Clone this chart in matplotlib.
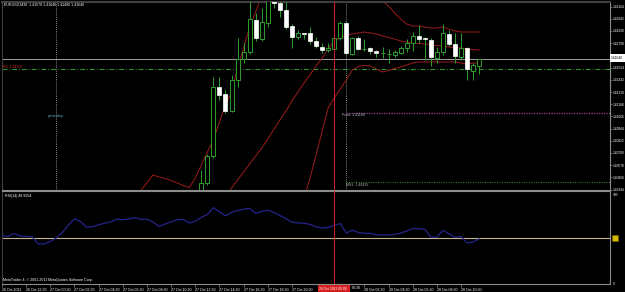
import numpy as np
import matplotlib.pyplot as plt
from matplotlib.patches import Rectangle

plt.rcParams['font.family'] = ['Liberation Sans', 'DejaVu Sans']

# ---- data (EURUSD M30, bar 0 = 26 Oct 20:30) ----
first_candle = 33
opens = [1.4033, 1.4040, 1.4067, 1.4136, 1.4129, 1.4112, 1.4143, 1.4164, 1.4171, 1.4203,
         1.4184, 1.4200, 1.4225, 1.4220, 1.4213, 1.4197, 1.4186, 1.4190, 1.4190, 1.4182,
         1.4176, 1.4173, 1.4174, 1.4185, 1.4200, 1.4169, 1.4185, 1.4174, 1.4175, 1.4172,
         1.4170, 1.4169, 1.4168, 1.4170, 1.4175, 1.4180, 1.4187, 1.4185, 1.4183, 1.4165,
         1.4171, 1.4189, 1.4179, 1.4166, 1.4175, 1.4152, 1.4157]
highs = [1.4053, 1.4069, 1.4146, 1.4146, 1.4133, 1.4148, 1.4185, 1.4180, 1.4225, 1.4210,
         1.4215, 1.4235, 1.4235, 1.4226, 1.4224, 1.4199, 1.4193, 1.4190, 1.4196, 1.4186,
         1.4180, 1.4180, 1.4188, 1.4202, 1.4202, 1.4186, 1.4187, 1.4184, 1.4176, 1.4173,
         1.4176, 1.4174, 1.4173, 1.4177, 1.4184, 1.4191, 1.4198, 1.4186, 1.4185, 1.4176,
         1.4199, 1.4193, 1.4190, 1.4190, 1.4176, 1.4160, 1.4164]
lows = [1.4027, 1.4038, 1.4065, 1.4123, 1.4110, 1.4111, 1.4136, 1.4160, 1.4169, 1.4182,
        1.4182, 1.4196, 1.4215, 1.4206, 1.4194, 1.4175, 1.4184, 1.4184, 1.4179, 1.4175,
        1.4170, 1.4171, 1.4173, 1.4183, 1.4168, 1.4168, 1.4173, 1.4172, 1.4169, 1.4166,
        1.4165, 1.4160, 1.4166, 1.4169, 1.4171, 1.4172, 1.4180, 1.4163, 1.4157, 1.4160,
        1.4168, 1.4177, 1.4160, 1.4163, 1.4143, 1.4143, 1.4149]
closes = [1.4040, 1.4067, 1.4136, 1.4128, 1.4112, 1.4143, 1.4164, 1.4171, 1.4204, 1.4185,
          1.4201, 1.4225, 1.4220, 1.4213, 1.4196, 1.4186, 1.4190, 1.4189, 1.4182, 1.4177,
          1.4173, 1.4175, 1.4185, 1.4200, 1.4170, 1.4185, 1.4174, 1.4174, 1.4172, 1.4170,
          1.4170, 1.4169, 1.4171, 1.4175, 1.4180, 1.4187, 1.4184, 1.4184, 1.4166, 1.4171,
          1.4190, 1.4179, 1.4167, 1.4175, 1.4154, 1.4158, 1.4164]

# bollinger bands (only the visible stretches)
upper_start = 22
bb_upper = [1.4025, 1.4033, 1.4040, 1.4048, 1.4046, 1.40445, 1.40425, 1.4040, 1.40375, 1.40355,
            1.4045, 1.4058, 1.4071, 1.4083, 1.4101, 1.4118, 1.4131, 1.4155, 1.4175, 1.4196,
            1.4211, 1.4228, 1.4238, 1.4245, 1.4250, 1.4253, 1.4254, 1.4253, 1.4252, 1.4250,
            1.4248, 1.4246, 1.4244, 1.4242, 1.4240, 1.4238, 1.4236, 1.4233, 1.4230, 1.4227,
            1.4224, 1.4222, 1.4217, 1.4210, 1.4204, 1.4199, 1.4197, 1.4197, 1.4196, 1.4195,
            1.4195, 1.4196, 1.4194, 1.4192, 1.4191, 1.4191, 1.4191, 1.4191]
mid_start = 37
bb_mid = [1.4025, 1.4035, 1.4043, 1.4051, 1.4059, 1.4067, 1.4075, 1.4084, 1.40935, 1.4103,
          1.4112, 1.4122, 1.4131, 1.4140, 1.4148, 1.4157, 1.4165, 1.4174, 1.4182, 1.4185,
          1.4188, 1.4189, 1.4190, 1.4191, 1.4190, 1.4189, 1.4187, 1.41855, 1.4184, 1.4182,
          1.4181, 1.4180, 1.41795, 1.4179, 1.4178, 1.41775, 1.4177, 1.4176, 1.41755, 1.4175,
          1.4174, 1.41735, 1.4173]
low_start = 50
bb_lower = [1.4025, 1.4045, 1.4068, 1.4092, 1.4115, 1.4125, 1.4134, 1.4143, 1.4153, 1.41565,
            1.41575, 1.4157, 1.4154, 1.4151, 1.41525, 1.41545, 1.4156, 1.4158, 1.4160, 1.4161,
            1.4161, 1.4161, 1.4161, 1.4161, 1.4161, 1.4161, 1.4160, 1.4159, 1.4160, 1.4160]

rsi = [52.7, 51.6, 54.9, 52.2, 51.6, 51.1, 43.5, 43.5, 46.2, 50.0,
       56.0, 64.1, 70.7, 67.9, 61.6, 62.3, 64.3, 66.0, 67.4, 70.3,
       69.8, 70.7, 72.0, 70.3, 70.3, 67.4, 62.5, 65.2, 67.6, 69.8,
       70.1, 66.3, 68.2, 72.3, 75.5, 82.9, 78.3, 74.1, 77.7, 79.9,
       81.2, 82.1, 76.8, 78.6, 80.2, 77.7, 74.5, 71.0, 67.1, 66.3,
       66.0, 64.7, 62.1, 60.8, 61.5, 63.6, 65.7, 55.4, 58.3, 55.9,
       55.1, 55.0, 53.3, 53.3, 53.3, 53.8, 55.2, 57.6, 60.3, 60.0,
       59.5, 50.8, 50.8, 58.3, 54.6, 50.8, 51.6, 44.6, 45.7, 49.0]

bid = 1.41640
r1_level = 1.41537
pivot = 1.41100
ms1 = 1.40415
separators = [9, 57]
marker_bar = 55

# label at 1.41676 sits under the bid price box, so it is not listed
price_ticks = [1.42164, 1.42042, 1.41920, 1.41798, 1.41554, 1.41432, 1.41310,
               1.41188, 1.41066, 1.40944, 1.40822, 1.40700, 1.40578, 1.40456, 1.40334]
time_ticks = [0, 4, 8, 12, 16, 20, 24, 28, 32, 36, 40, 44, 48, 56, 60, 64, 68, 72, 76]
# the 28 Oct 00:30 label is half hidden by the red time box, only "00:30" shows
time_labels = ['26 Oct 2011', '26 Oct 22:30', '27 Oct 00:30', '27 Oct 02:30', '27 Oct 04:30',
               '27 Oct 06:30', '27 Oct 08:30', '27 Oct 10:30', '27 Oct 12:30', '27 Oct 14:30',
               '27 Oct 16:30', '27 Oct 18:30', '27 Oct 20:30', '',
               '28 Oct 02:30', '28 Oct 04:30', '28 Oct 06:30', '28 Oct 08:30', '28 Oct 10:30']

# ---- layout (pixel boxes) ----
W, H = 625, 292
fig = plt.figure(figsize=(6.25, 2.92), dpi=100, facecolor='black')

def box(x0, y0, x1, y1):
    return [x0 / W, 1 - y1 / H, (x1 - x0) / W, (y1 - y0) / H]

ax = fig.add_axes(box(2, 2, 610, 190))
ax2 = fig.add_axes(box(2, 191, 610, 284))
FS = 2.6
green = '#2f9e2f'
bandc = '#9a1c1c'
grey = '#8c8c8c'

for a in (ax, ax2):
    a.set_facecolor('black')
    a.set_xlim(0, 608 / 6.04)
    for s in a.spines.values():
        s.set_color(grey)
        s.set_linewidth(0.8)
    a.spines['left'].set_color('#404040')
ax.spines['top'].set_color('#404040')
ax.spines['top'].set_linewidth(1.5)

ax.set_ylim(1.4033, 1.4221)
ax2.set_ylim(0, 101)

# candles
idx = np.arange(first_candle, first_candle + len(opens))
o = np.array(opens); c = np.array(closes)
ax.vlines(idx, lows, highs, color=green, lw=0.7, zorder=3)
bull = c >= o
hgt = np.maximum(np.abs(c - o), 0.00003)
bot = np.minimum(o, c)
ax.bar(idx[bull], hgt[bull], bottom=bot[bull], width=0.66, facecolor='black',
       edgecolor=green, lw=0.7, zorder=4)
ax.bar(idx[~bull], hgt[~bull], bottom=bot[~bull], width=0.66, facecolor='white',
       edgecolor='white', lw=0.5, zorder=4)

# bands
ax.plot(np.arange(upper_start, upper_start + len(bb_upper)), bb_upper, color=bandc, lw=0.7, zorder=2)
ax.plot(np.arange(mid_start, mid_start + len(bb_mid)), bb_mid, color=bandc, lw=0.7, zorder=2)
ax.plot(np.arange(low_start, low_start + len(bb_lower)), bb_lower, color=bandc, lw=0.7, zorder=2)

# horizontal levels
ax.axhline(bid, color='#a0a0a0', lw=0.7, zorder=1)
ax.axhline(r1_level, color=green, lw=0.7, ls=(0, (5, 2, 1, 2)), zorder=1)
ax.hlines(pivot, separators[1], 120, color='#9a3a9a', lw=0.9, ls=(0, (1, 1)), zorder=1)
ax.hlines(ms1, separators[1], 120, color=green, lw=0.7, ls=(0, (1, 1.5)), zorder=1)
for s in separators:
    ax.axvline(s, color='#b0b0b0', lw=0.6, ls=(0, (1, 1.5)), zorder=1)
ax.axvline(marker_bar, color='#c42222', lw=0.8, zorder=5)
ax2.axvline(marker_bar, color='#c42222', lw=0.8, zorder=5)

# price axis
ax.yaxis.tick_right()
ax.set_yticks(price_ticks)
ax.set_yticklabels(['%.5f' % t for t in price_ticks])
ax.tick_params(axis='y', colors=grey, labelcolor='white', labelsize=2.3, length=1.5, width=0.5, pad=0.4)
ax.set_xticks([])

# rsi
ax2.plot(range(len(rsi)), rsi, color='#24248c', lw=0.9, zorder=3)
ax2.axhline(50, color='#c4b48a', lw=0.8, zorder=2)
ax2.yaxis.tick_right()
ax2.set_yticks([97, 1])
ax2.set_yticklabels(['100', '0'])
ax2.tick_params(axis='y', colors=grey, labelcolor='white', labelsize=2.3, length=0, pad=2)
ax2.set_xticks(time_ticks)
ax2.set_xticklabels(time_labels)
ax2.tick_params(axis='x', colors=grey, labelcolor='white', labelsize=FS, length=2, width=0.5, pad=0.6)
for lab in ax2.get_xticklabels():
    lab.set_ha('left')

# texts
def ptext(x, y, s, color='white', size=FS, **kw):
    fig.text(x / W, 1 - y / H, s, color=color, fontsize=size, va='center', ha='left', **kw)

ptext(4, 5, 'EURUSD,M30  1.41570 1.41640 1.41490 1.41640')
ptext(3, 67, 'R1: 1.41537', color='#e03030')
ptext(48, 116, 'yesterday', color='#5fa8a8')
ptext(342, 115, 'Pivot: 1.41100', color='#b8b8c8')
ptext(346, 184.5, 'MS1: 1.40415', color='#b8b8b8')
ptext(5, 196, 'RSI(14) 48.9954')
ptext(3, 280, 'MetaTrader 4, \u00a9 2001-2011 MetaQuotes Software Corp.')
ptext(351.5, 288.3, '00:30')

# current price box, level marker and time marker box
fig.patches.append(Rectangle((610 / W, 1 - 62 / H), 15 / W, 8 / H, transform=fig.transFigure,
                             facecolor='white', edgecolor='none', zorder=6))
fig.text(611 / W, 1 - 58 / H, '1.41640', color='black', fontsize=2.3, va='center', zorder=7)
fig.patches.append(Rectangle((612 / W, 1 - 241 / H), 6 / W, 6 / H, transform=fig.transFigure,
                             facecolor='#d4b800', edgecolor='#806000', lw=0.4, zorder=6))
fig.patches.append(Rectangle((318 / W, 1 - 292 / H), 32 / W, 7 / H, transform=fig.transFigure,
                             facecolor='#d81e1e', edgecolor='none', zorder=6))
fig.text(319 / W, 1 - 288.5 / H, '28 Oct 2011 00:00', color='white', fontsize=2.4, va='center', zorder=7)

fig.savefig('out.png', dpi=100, facecolor='black')
